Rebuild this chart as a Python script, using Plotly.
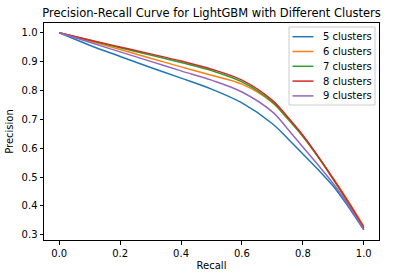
import plotly.graph_objects as go

recall = [0.0, 0.1, 0.2, 0.3, 0.4, 0.5, 0.6, 0.7, 0.75, 0.8, 0.85, 0.9, 0.95, 1.0]

labels = ["5 clusters", "6 clusters", "7 clusters", "8 clusters", "9 clusters"]
colors = ["#1f77b4", "#ff7f0e", "#2ca02c", "#d62728", "#9467bd"]

prec_5 = [1.0, 0.957, 0.918, 0.880, 0.843, 0.805, 0.757, 0.685, 0.634, 0.580, 0.526, 0.468, 0.396, 0.317]
prec_6 = [1.0, 0.971, 0.942, 0.912, 0.882, 0.853, 0.822, 0.758, 0.702, 0.641, 0.571, 0.495, 0.415, 0.330]
prec_7 = [1.0, 0.974, 0.948, 0.923, 0.897, 0.869, 0.830, 0.760, 0.703, 0.641, 0.569, 0.491, 0.409, 0.322]
prec_8 = [1.0, 0.975, 0.951, 0.927, 0.902, 0.874, 0.836, 0.766, 0.708, 0.645, 0.572, 0.494, 0.412, 0.325]
prec_9 = [1.0, 0.967, 0.934, 0.901, 0.868, 0.836, 0.795, 0.726, 0.667, 0.604, 0.542, 0.477, 0.402, 0.318]

series = [prec_5, prec_6, prec_7, prec_8, prec_9]

W, H = 396, 278
L, R, T, B = 44, 379, 23, 240  # plot area in pixels

fig = go.Figure()
for lab, col, ys in zip(labels, colors, series):
    fig.add_trace(go.Scatter(x=recall, y=ys, mode="lines", name=lab, showlegend=False,
                             line=dict(color=col, width=1.5, shape="spline", smoothing=1.0)))

font = "DejaVu Sans, Arial, sans-serif"
axis_common = dict(showline=True, linecolor="#000000", linewidth=1, mirror=True,
                   ticks="outside", ticklen=3.5, tickcolor="#000000", tickwidth=1,
                   showgrid=False, zeroline=False, automargin=False,
                   tickfont=dict(family=font, size=10, color="black"))

def px_x(px):
    return (px - L) / (R - L)

def px_y(py):
    return (B - py) / (B - T)

shapes = [
    dict(type="rect", xref="paper", yref="paper",
         x0=px_x(289), x1=px_x(375), y0=px_y(105), y1=px_y(27),
         line=dict(color="#cccccc", width=1), fillcolor="rgba(255,255,255,0.8)",
         layer="above"),
]
annotations = []
for i, (lab, col) in enumerate(zip(labels, colors)):
    yy = 36.7 + 14.8 * i
    shapes.append(dict(type="line", xref="paper", yref="paper",
                       x0=px_x(292.5), x1=px_x(313.5), y0=px_y(yy), y1=px_y(yy),
                       line=dict(color=col, width=1.5), layer="above"))
    annotations.append(dict(text=lab, xref="paper", yref="paper", x=px_x(320.5), y=px_y(yy),
                            xanchor="left", yanchor="middle", showarrow=False,
                            font=dict(family=font, size=10, color="black")))

fig.update_layout(
    width=W, height=H,
    margin=dict(l=L, r=W - R, t=T, b=H - B),
    plot_bgcolor="white", paper_bgcolor="white",
    title=dict(text="Precision-Recall Curve for LightGBM with Different Clusters",
               font=dict(family=font, size=11.5, color="black"),
               x=(L + R) / 2 / W, xanchor="center", y=1 - 13 / H, yanchor="middle"),
    xaxis=dict(range=[-0.05, 1.05], tickvals=[0, 0.2, 0.4, 0.6, 0.8, 1.0],
               ticktext=["0.0", "0.2", "0.4", "0.6", "0.8", "1.0"],
               title=dict(text="Recall", font=dict(family=font, size=10, color="black"), standoff=4),
               **axis_common),
    yaxis=dict(range=[0.282, 1.034], tickvals=[0.3, 0.4, 0.5, 0.6, 0.7, 0.8, 0.9, 1.0],
               ticktext=["0.3", "0.4", "0.5", "0.6", "0.7", "0.8", "0.9", "1.0"],
               title=dict(text="Precision", font=dict(family=font, size=10, color="black"), standoff=6),
               **axis_common),
    shapes=shapes,
    annotations=annotations,
    showlegend=False,
)

fig.write_html("out.html", config={"displayModeBar": False},
               post_script="document.body.style.margin='0px';document.body.style.padding='0px';")
